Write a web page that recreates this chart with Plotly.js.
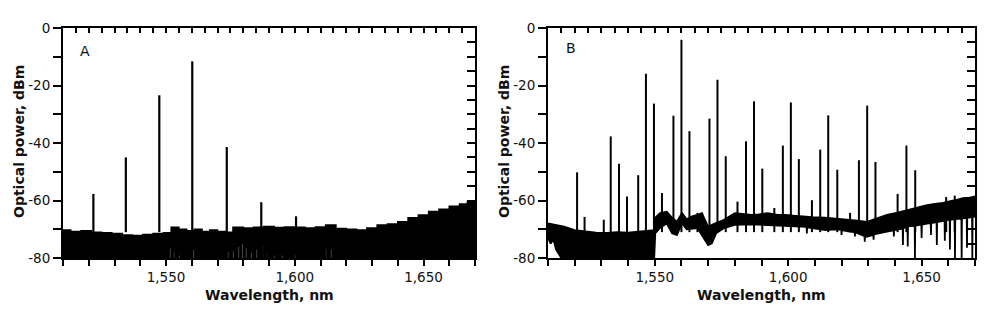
<!DOCTYPE html>
<html>
<head>
<meta charset="utf-8">
<script src="https://cdn.plot.ly/plotly-3.0.1.min.js"></script>
<style>html,body{margin:0;padding:0;background:#fff;}#chart{width:1003px;height:311px;}</style>
</head>
<body>
<div id="chart"></div>
<script>
// ---------- Panel A data ----------
const aFloorX = [1510,1513,1517,1521,1525,1529,1533,1537,1541,1545,1549,1552,1555,1558,1561,1564,1567,1570,1573,1576,1580,1584,1588,1592,1596,1600,1604,1608,1612,1616,1620,1624,1628,1632,1636,1640,1644,1648,1652,1656,1660,1664,1667,1670];
const aFloorTop = [-70.3,-70.8,-70.5,-71,-71.2,-71.5,-72,-72.2,-71.8,-71.5,-71.2,-69.3,-70,-70.5,-70,-70.8,-70.3,-70.8,-71,-69.3,-69.6,-69.3,-69,-69.4,-69.2,-69.3,-69.6,-69.2,-68.5,-69.7,-70,-70.3,-69.6,-68.5,-68.2,-67.4,-66,-65,-63.8,-63,-62,-61.2,-60.5,-59.8];
const aGapX = [1551.5,1553,1555,1560.5,1574,1576,1578,1579.5,1581,1583,1585,1587.5,1589,1592,1595,1600,1612,1614];
const aGapY = [-76.5,-78,-79,-77,-78,-77.5,-76,-75,-76.5,-78,-77,-76,-78.5,-79,-79,-79,-77,-77];
const aPeakX = [1521.8,1534.4,1547.4,1560.2,1573.6,1587,1600.5];
const aPeakY = [-57.7,-45,-23.4,-11.6,-41.4,-60.6,-65.5];

// ---------- Panel B data ----------
const bTopX = [1510,1513,1516,1520,1524,1528,1532,1536,1540,1544,1547,1549.8,1550.2,1552,1554.5,1556.5,1558.3,1560.2,1562,1564,1566,1567.7,1568.8,1570,1572.5,1576,1580,1583,1586.4,1589,1592.4,1596,1599,1602,1605,1609,1613.8,1617,1620,1623,1626,1629.5,1633,1637,1641,1644.5,1648,1652,1655,1658,1662,1665.5,1668,1670];
const bTopY = [-68,-68.5,-69.1,-70.3,-70.8,-71.2,-71.3,-71,-71.2,-70.8,-70.6,-70.3,-66,-64.4,-63.9,-66,-67.4,-64.4,-66.5,-65.5,-65,-64.4,-66.7,-69.1,-68,-66.7,-64.4,-64.8,-65,-64.8,-64.4,-65,-65,-65.3,-65.6,-65.8,-66,-66.2,-66.5,-66.7,-67,-67.4,-66.3,-65,-64.2,-63.3,-62.5,-61.6,-61.2,-60.8,-60,-59.2,-59,-58.6];
const bBotX = [1510,1511,1512,1513,1514,1515,1549.8,1550.2,1552,1554.5,1556.5,1558.3,1560.2,1562,1566,1568,1570,1571.4,1573,1576,1580,1586,1592,1598,1605,
  1606.9,1607,1607.1,1614,1618,1619.9,1620,1620.1,1623,1624.9,1625,1625.1,1628.6,1628.7,1628.8,1629.5,1631.9,1632,1632.1,1637,
  1639.5,1639.6,1639.7,1642.9,1643,1643.1,1644.5,1644.7,1644.8,1644.9,1647.4,1647.5,1647.6,1649.9,1650,1650.1,1652,1653.4,1653.5,1653.6,
  1655.6,1655.7,1655.8,1658.6,1658.7,1658.8,1660,1660.5,1660.6,1660.7,1662.4,1662.5,1662.6,1664.9,1665,1665.1,1666.9,1667,1667.1,1668.9,1669,1669.1,1670];
const bBotY = [-73,-75,-73.5,-77,-78.5,-80,-80,-71.4,-69.5,-68,-71.4,-72,-68,-70,-69.6,-72.6,-75.5,-74.9,-71.4,-69.6,-68.5,-68.3,-68.5,-68.8,-69.1,
  -69.2,-71.5,-69.3,-70.3,-70,-70.2,-72,-70.3,-70.8,-71,-72.5,-71,-72.4,-74.3,-72.4,-72.6,-72,-73.6,-71.8,-70.8,
  -70.4,-72.5,-70.3,-69.8,-75.5,-69.7,-69.1,-69.1,-76,-69,-68.8,-80,-68.7,-68.4,-73,-68.4,-68,-67.9,-72,-67.9,
  -67.5,-75.5,-67.5,-67,-74,-67,-66.7,-66.7,-77,-66.7,-66.5,-80,-66.5,-66.3,-80,-66.3,-66,-76.4,-66,-65.8,-80,-65.8,-65.6];
const bPeakX = [1520.9,1523.7,1530.9,1533.5,1536.6,1539.6,1543.8,1546.7,1549.7,1552.7,1557,1560,1563,1566,1567.5,1570.5,1573.5,1576.6,1581,1584.2,1587.2,1590.3,1594.8,1598,1601,1604,1608.9,1612,1615,1618.4,1623.2,1626.5,1629.6,1632.7,1641,1644.3,1647.6,1659.2,1662.4];
const bPeakY = [-50.2,-65.7,-66.7,-37.7,-47.2,-58.6,-51.2,-15.9,-26.3,-57.4,-30.5,-4.1,-35.9,-64.3,-64.3,-31.5,-18,-44.6,-60.4,-39.4,-25.5,-48.9,-62.6,-40.9,-25.9,-45.6,-59.9,-42.3,-30.4,-49.3,-64.3,-46,-27,-46.6,-57.7,-40.9,-49.5,-58.8,-58.3];

// ---------- Tick labels ----------
const xTickVals = [1550,1600,1650];
const xTickText = ['1,550','1,600','1,650'];
const yTickVals = [-80,-60,-40,-20,0];
const yTickText = ['-80','-60','-40','-20','0'];

// ---------- helpers ----------
function gapLine(xs, ys, x0, x1, floor) {
  const x = [x0], y = [floor];
  xs.forEach((v, i) => { x.push(v, v + 0.4); y.push(ys[i], floor); });
  x.push(x1); y.push(floor);
  return {x, y};
}
function spikes(xs, ys, base) {
  const x = [], y = [];
  xs.forEach((v, i) => { x.push(v, v, null); y.push(base, ys[i], null); });
  return {x, y};
}

const aBot = gapLine(aGapX, aGapY, 1510, 1670, -80);
const aSp = spikes(aPeakX, aPeakY, -71);
const bSp = spikes(bPeakX, bPeakY, -71);

const blk = '#000';
const traces = [
  {x: aBot.x, y: aBot.y, xaxis:'x', yaxis:'y', mode:'lines', line:{color:blk, width:1, shape:'hv'}, hoverinfo:'skip'},
  {x: aFloorX, y: aFloorTop, xaxis:'x', yaxis:'y', mode:'lines', fill:'tonexty', fillcolor:blk, line:{color:blk, width:1.5, shape:'hv'}, hoverinfo:'skip'},
  {x: aSp.x, y: aSp.y, xaxis:'x', yaxis:'y', mode:'lines', line:{color:blk, width:2.2}, connectgaps:false, hoverinfo:'skip'},
  {x: bBotX, y: bBotY, xaxis:'x2', yaxis:'y2', mode:'lines', line:{color:blk, width:1.8}, hoverinfo:'skip'},
  {x: bTopX, y: bTopY, xaxis:'x2', yaxis:'y2', mode:'lines', fill:'tonexty', fillcolor:blk, line:{color:blk, width:1.8}, hoverinfo:'skip'},
  {x: bSp.x, y: bSp.y, xaxis:'x2', yaxis:'y2', mode:'lines', line:{color:blk, width:2}, connectgaps:false, hoverinfo:'skip'},
  {x: [], y: [], xaxis:'x3', yaxis:'y', mode:'lines', hoverinfo:'skip'},
  {x: [], y: [], xaxis:'x', yaxis:'y3', mode:'lines', hoverinfo:'skip'},
  {x: [], y: [], xaxis:'x4', yaxis:'y2', mode:'lines', hoverinfo:'skip'},
  {x: [], y: [], xaxis:'x2', yaxis:'y4', mode:'lines', hoverinfo:'skip'}
];

const tf = {family:'DejaVu Sans, Verdana, sans-serif', size:13.5, color:'#111'};
const yDom = [1 - 258/311, 1 - 28/311];
function bottomX(dom, anchor) {
  return {domain: dom, anchor: anchor, range:[1510,1670], tickmode:'array', tickvals:xTickVals, ticktext:xTickText,
    ticks:'outside', ticklen:6, tickwidth:2, tickcolor:blk,
    minor:{dtick:10, tick0:1500, ticks:'outside', ticklen:6, tickwidth:2, tickcolor:blk, showgrid:false},
    showline:true, linewidth:2, linecolor:blk, showgrid:false, zeroline:false, tickfont:tf, fixedrange:true};
}
function leftY(anchor) {
  return {domain: yDom, anchor: anchor, range:[-80,0], tickmode:'array', tickvals:yTickVals, ticktext:yTickText,
    ticks:'outside', ticklen:8, tickwidth:2, tickcolor:blk,
    minor:{dtick:10, tick0:0, ticks:'outside', ticklen:8, tickwidth:2, tickcolor:blk, showgrid:false},
    showline:true, linewidth:2, linecolor:blk, showgrid:false, zeroline:false, tickfont:tf, fixedrange:true};
}
function topX(over, anchor) {
  return {overlaying: over, anchor: anchor, side:'top', range:[1510,1670], tickmode:'linear', dtick:5, tick0:1500,
    ticks:'inside', ticklen:5, tickwidth:2, tickcolor:blk, showticklabels:false,
    showline:true, linewidth:2, linecolor:blk, showgrid:false, zeroline:false, fixedrange:true};
}
function rightY(over, anchor) {
  return {overlaying: over, anchor: anchor, side:'right', range:[-80,0], tickmode:'linear', dtick:5, tick0:0,
    ticks:'inside', ticklen:8, tickwidth:2, tickcolor:blk, showticklabels:false,
    showline:true, linewidth:2, linecolor:blk, showgrid:false, zeroline:false, fixedrange:true};
}

const titleFont = {family:'DejaVu Sans, Verdana, sans-serif', size:14, color:'#111', weight:'bold'};
const labFont = {family:'DejaVu Sans, Verdana, sans-serif', size:14, color:'#111'};
function ann(text, px, py, font, angle) {
  return {text: text, xref:'paper', yref:'paper', x: px/1003, y: 1 - py/311, xanchor:'center', yanchor:'middle',
    showarrow:false, font: font, textangle: angle || 0};
}

const layout = {
  width:1003, height:311, margin:{l:0, r:0, t:0, b:0}, paper_bgcolor:'#fff', plot_bgcolor:'#fff', showlegend:false,
  xaxis: bottomX([63/1003, 475/1003], 'y'),
  yaxis: leftY('x'),
  xaxis2: bottomX([548/1003, 975/1003], 'y2'),
  yaxis2: leftY('x2'),
  xaxis3: topX('x', 'y'),
  yaxis3: rightY('y', 'x'),
  xaxis4: topX('x2', 'y2'),
  yaxis4: rightY('y2', 'x2'),
  annotations: [
    ann('A', 85, 51, labFont),
    ann('B', 571, 48, labFont),
    ann('<b>Optical power, dBm</b>', 19, 142, titleFont, -90),
    ann('<b>Optical power, dBm</b>', 504, 142, titleFont, -90),
    ann('<b>Wavelength, nm</b>', 269, 295, titleFont),
    ann('<b>Wavelength, nm</b>', 761, 295, titleFont)
  ]
};

Plotly.newPlot('chart', traces, layout, {staticPlot:true, displayModeBar:false});
</script>
</body>
</html>
